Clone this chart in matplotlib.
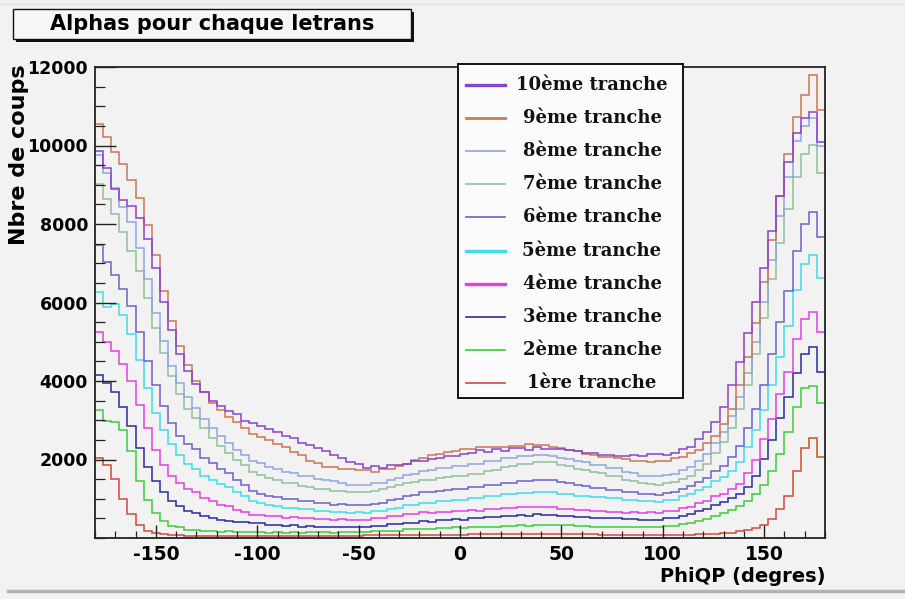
import matplotlib
matplotlib.use("Agg")
import matplotlib.pyplot as plt
import numpy as np
from matplotlib.lines import Line2D
from matplotlib.patches import Rectangle
from matplotlib.ticker import MultipleLocator

W, H = 905, 599
BG = "#f2f2f2"

# PhiQP bins, 4 degrees wide, -180 .. 180
EDGES = np.arange(-180, 181, 4)

TRANCHE_01 = [
    2030, 1850, 1500, 1000, 600, 340, 180, 120, 90, 75,
    65, 60, 60, 55, 55, 50, 55, 50, 50, 50,
    50, 50, 50, 50, 55, 50, 55, 55, 55, 60,
    60, 60, 60, 65, 65, 65, 70, 70, 75, 75,
    75, 80, 80, 85, 85, 85, 90, 90, 90, 95,
    95, 95, 100, 95, 100, 95, 100, 95, 95, 90,
    90, 90, 85, 85, 80, 80, 80, 75, 75, 75,
    75, 80, 80, 85, 90, 95, 105, 120, 140, 170,
    210, 260, 330, 480, 750, 1080, 1700, 2300, 2550, 2060]
TRANCHE_02 = [
    3260, 2990, 2960, 2740, 2210, 1440, 960, 630, 430, 310,
    270, 210, 210, 180, 180, 160, 170, 150, 160, 150,
    150, 140, 150, 140, 150, 140, 150, 150, 150, 140,
    150, 150, 150, 160, 170, 170, 190, 190, 220, 220,
    240, 240, 260, 260, 270, 260, 280, 270, 290, 290,
    310, 300, 320, 310, 330, 320, 330, 320, 320, 300,
    300, 290, 290, 280, 280, 270, 280, 270, 280, 280,
    300, 310, 350, 380, 440, 490, 570, 630, 720, 810,
    950, 1110, 1340, 1710, 2140, 2710, 3340, 3810, 3860, 3440]
TRANCHE_03 = [
    4160, 3940, 3710, 3340, 2860, 2290, 1810, 1440, 1160, 940,
    810, 690, 640, 550, 510, 450, 440, 400, 400, 370,
    370, 340, 340, 310, 320, 290, 300, 280, 290, 270,
    290, 270, 290, 280, 310, 310, 350, 350, 390, 390,
    430, 420, 460, 450, 480, 470, 500, 500, 530, 530,
    560, 550, 580, 570, 600, 580, 590, 560, 560, 530,
    540, 510, 520, 500, 510, 490, 490, 460, 470, 460,
    500, 510, 570, 600, 690, 750, 850, 910, 1020, 1110,
    1310, 1590, 2010, 2490, 3060, 3590, 4210, 4690, 4870, 4240]
TRANCHE_04 = [
    5260, 4990, 4760, 4440, 4010, 3390, 2810, 2240, 1860, 1590,
    1410, 1240, 1160, 1020, 940, 850, 810, 720, 670, 590,
    590, 550, 550, 520, 530, 500, 510, 480, 490, 470,
    480, 460, 470, 460, 500, 500, 550, 560, 610, 610,
    650, 640, 670, 670, 700, 690, 710, 700, 740, 740,
    770, 760, 790, 780, 800, 780, 790, 750, 750, 710,
    710, 680, 690, 660, 670, 640, 650, 630, 650, 640,
    680, 690, 760, 800, 890, 950, 1060, 1120, 1240, 1370,
    1660, 1990, 2510, 3040, 3660, 4240, 5060, 5590, 5770, 5260]
TRANCHE_05 = [
    6260, 5890, 5960, 5690, 5210, 4540, 3810, 3190, 2760, 2390,
    2110, 1890, 1760, 1590, 1490, 1380, 1310, 1170, 1060, 930,
    890, 830, 810, 770, 770, 730, 730, 690, 700, 660,
    670, 640, 650, 640, 680, 690, 750, 770, 830, 850,
    890, 900, 940, 940, 980, 980, 1010, 1010, 1060, 1070,
    1110, 1110, 1150, 1140, 1180, 1160, 1160, 1120, 1110, 1070,
    1070, 1040, 1050, 1020, 1030, 980, 970, 930, 930, 920,
    960, 980, 1060, 1110, 1220, 1310, 1450, 1550, 1710, 1940,
    2310, 2740, 3260, 3890, 4610, 5390, 6310, 6990, 7210, 6620]
TRANCHE_06 = [
    7460, 7040, 6710, 6340, 5910, 5240, 4510, 3890, 3360, 2940,
    2610, 2390, 2260, 2040, 1910, 1770, 1660, 1490, 1340, 1190,
    1130, 1070, 1040, 990, 990, 950, 940, 890, 890, 850,
    860, 830, 840, 840, 870, 890, 960, 990, 1060, 1090,
    1160, 1170, 1210, 1220, 1260, 1260, 1300, 1290, 1350, 1360,
    1410, 1410, 1450, 1450, 1490, 1480, 1480, 1430, 1410, 1350,
    1330, 1280, 1270, 1230, 1230, 1170, 1160, 1110, 1110, 1100,
    1150, 1180, 1260, 1320, 1430, 1540, 1710, 1840, 2060, 2340,
    2810, 3290, 3910, 4690, 5510, 6290, 7310, 7990, 8310, 7680]
TRANCHE_07 = [
    9010, 8640, 8260, 7790, 7310, 6790, 6110, 5340, 4710, 4140,
    3660, 3290, 3060, 2790, 2560, 2340, 2160, 1990, 1860, 1690,
    1610, 1520, 1480, 1410, 1390, 1330, 1310, 1260, 1260, 1210,
    1210, 1170, 1180, 1170, 1210, 1240, 1310, 1340, 1410, 1430,
    1490, 1490, 1540, 1550, 1590, 1590, 1640, 1640, 1710, 1740,
    1810, 1840, 1890, 1890, 1940, 1930, 1930, 1860, 1830, 1770,
    1730, 1670, 1650, 1590, 1570, 1490, 1460, 1390, 1370, 1340,
    1390, 1420, 1510, 1590, 1730, 1890, 2160, 2440, 2810, 3290,
    3910, 4690, 5610, 6590, 7510, 8390, 9210, 9790, 10010, 9300]
TRANCHE_08 = [
    9760, 9290, 8910, 8440, 8060, 7390, 6610, 5740, 5010, 4390,
    3960, 3590, 3310, 3040, 2810, 2590, 2410, 2240, 2110, 1970,
    1910, 1810, 1770, 1690, 1660, 1590, 1570, 1510, 1490, 1440,
    1410, 1360, 1360, 1350, 1390, 1410, 1490, 1530, 1610, 1640,
    1710, 1730, 1790, 1790, 1840, 1840, 1890, 1890, 1960, 1970,
    2030, 2040, 2090, 2090, 2120, 2110, 2090, 2040, 2010, 1950,
    1930, 1870, 1850, 1790, 1790, 1690, 1660, 1590, 1580, 1570,
    1610, 1640, 1730, 1810, 1960, 2140, 2410, 2690, 3110, 3590,
    4210, 4990, 6010, 7090, 8210, 9190, 10110, 10490, 10700, 10000]
TRANCHE_09 = [
    10560, 10210, 9830, 9520, 9130, 8660, 7980, 7210, 6290, 5520,
    4880, 4420, 3990, 3710, 3440, 3260, 3090, 2960, 2790, 2660,
    2570, 2490, 2390, 2310, 2190, 2110, 1970, 1910, 1820, 1810,
    1770, 1770, 1730, 1730, 1690, 1760, 1770, 1840, 1890, 1990,
    2040, 2110, 2140, 2190, 2210, 2260, 2270, 2310, 2310, 2310,
    2330, 2350, 2350, 2390, 2360, 2360, 2320, 2300, 2250, 2210,
    2140, 2110, 2070, 2060, 2050, 2010, 1970, 1960, 1930, 1970,
    1970, 2030, 2070, 2160, 2240, 2410, 2590, 2910, 3290, 3910,
    4620, 5480, 6520, 7590, 8720, 9790, 10720, 11280, 11800, 10900]
TRANCHE_10 = [
    9850, 9420, 8880, 8620, 8460, 8150, 7620, 6880, 6020, 5310,
    4690, 4260, 3930, 3720, 3480, 3370, 3230, 3160, 2990, 2930,
    2860, 2770, 2710, 2590, 2540, 2410, 2360, 2290, 2210, 2120,
    2040, 1940, 1890, 1790, 1830, 1780, 1850, 1870, 1890, 1960,
    1970, 2010, 2040, 2090, 2090, 2140, 2170, 2250, 2190, 2270,
    2220, 2290, 2300, 2250, 2310, 2280, 2260, 2270, 2230, 2210,
    2170, 2160, 2110, 2110, 2100, 2090, 2120, 2080, 2150, 2140,
    2120, 2170, 2260, 2320, 2510, 2690, 2960, 3340, 3910, 4480,
    5230, 6010, 6880, 7820, 8710, 9580, 10310, 10690, 10860, 10080]

SERIES = [TRANCHE_01, TRANCHE_02, TRANCHE_03, TRANCHE_04, TRANCHE_05,
          TRANCHE_06, TRANCHE_07, TRANCHE_08, TRANCHE_09, TRANCHE_10]
LABELS = ["1ère tranche", "2ème tranche", "3ème tranche", "4ème tranche",
          "5ème tranche", "6ème tranche", "7ème tranche", "8ème tranche",
          "9ème tranche", "10ème tranche"]
COLORS = ["#d04a3a", "#3ccc3c", "#2b2b9b", "#e040e0", "#3fdce6",
          "#6a62c8", "#92bfa0", "#8fa6dc", "#cc7755", "#8844cc"]
LEG_WIDTHS = [1.2, 1.2, 1.2, 2.4, 2.4, 1.2, 1.2, 1.2, 2.0, 2.4]

X_TICKS = [-150, -100, -50, 0, 50, 100, 150]
Y_TICKS = [2000, 4000, 6000, 8000, 10000, 12000]


def fx(px):
    return px / W


def fy(py):
    return 1 - py / H


plt.rcParams["font.family"] = ["DejaVu Sans"]
fig = plt.figure(figsize=(W / 100, H / 100), dpi=100, facecolor=BG)

# main histogram frame
ax = fig.add_axes([fx(95), fy(538), fx(825) - fx(95), fy(67) - fy(538)])
ax.set_facecolor(BG)
for vals, col in zip(SERIES, COLORS):
    ax.stairs(vals, EDGES, baseline=None, color=col, linewidth=1.1)

ax.set_xlim(-180, 180)
ax.set_ylim(0, 12000)
ax.set_xticks(X_TICKS)
ax.set_xticklabels([str(v) for v in X_TICKS], fontsize=13.5, fontweight="bold")
ax.set_yticks(Y_TICKS)
ax.set_yticklabels([str(v) for v in Y_TICKS], fontsize=12.5, fontweight="bold")
ax.xaxis.set_minor_locator(MultipleLocator(10))
ax.yaxis.set_minor_locator(MultipleLocator(500))
ax.tick_params(axis="x", which="major", direction="in", length=9.5, width=1.0, pad=5, color="#222")
ax.tick_params(axis="x", which="minor", direction="in", length=5, width=0.9, color="#222")
ax.tick_params(axis="y", which="major", direction="in", length=15, width=1.0, pad=5, color="#222")
ax.tick_params(axis="y", which="minor", direction="in", length=7.5, width=0.9, color="#222")
for side in ["top", "right", "bottom", "left"]:
    ax.spines[side].set_linewidth(1.3)
    ax.spines[side].set_color("#222")

fig.text(fx(825), fy(577), "PhiQP (degres)", ha="right", va="center",
         fontsize=14, fontweight="bold")
fig.text(fx(19), fy(64), "Nbre de coups", ha="center", va="top", rotation=90,
         fontsize=16, fontweight="bold")

# title pave with its shadow
fig.add_artist(Rectangle((fx(16), fy(42)), fx(411) - fx(13), fy(9) - fy(39),
                         transform=fig.transFigure, facecolor="#111", edgecolor="none"))
fig.add_artist(Rectangle((fx(13), fy(39)), fx(411) - fx(13), fy(9) - fy(39),
                         transform=fig.transFigure, facecolor="#f6f6f6", edgecolor="#111",
                         linewidth=1.0))
fig.text(fx(212), fy(24), "Alphas pour chaque letrans", ha="center", va="center",
         fontsize=15, fontweight="bold")

# legend box
lax = fig.add_axes([fx(458), fy(398), fx(683) - fx(458), fy(64) - fy(398)])
lax.set_facecolor("#fbfbfb")
lax.set_xlim(458, 683)
lax.set_ylim(398, 64)
lax.set_xticks([])
lax.set_yticks([])
for side in ["top", "right", "bottom", "left"]:
    lax.spines[side].set_linewidth(1.4)
    lax.spines[side].set_color("#111")
row_y = np.linspace(85, 383, 10)
for i, yy in enumerate(row_y):
    k = 9 - i
    lax.plot([466, 505], [yy, yy], color=COLORS[k], linewidth=LEG_WIDTHS[k])
    lax.text(592, yy, LABELS[k], ha="center", va="center", fontsize=13,
             fontweight="bold", family="DejaVu Serif", color="#111")

# canvas borders
fig.add_artist(Line2D([fx(8), fx(905)], [fy(591), fy(591)], transform=fig.transFigure,
                      color="#b4b4b4", linewidth=2.5))
fig.add_artist(Line2D([0, 1], [fy(4), fy(4)], transform=fig.transFigure,
                      color="#e4e4e4", linewidth=1.0))

fig.savefig("out.png", dpi=100, facecolor=BG)
